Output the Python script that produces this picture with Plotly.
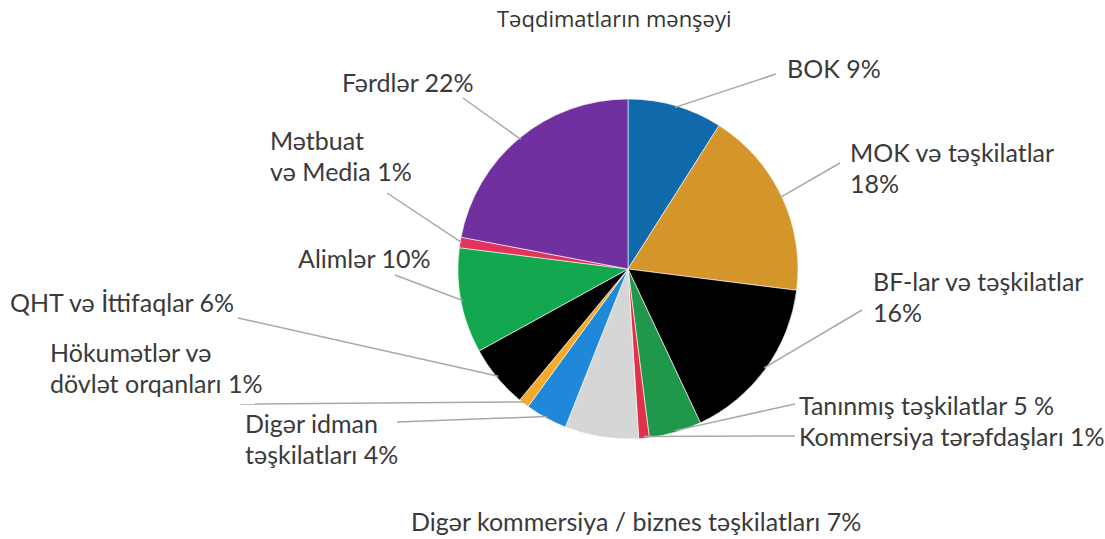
import math
import plotly.graph_objects as go

# ---- data ----
categories = [
    "BOK", "MOK və təşkilatlar", "BF-lar və təşkilatlar", "Tanınmış təşkilatlar",
    "Kommersiya tərəfdaşları", "Digər kommersiya / biznes təşkilatları",
    "Digər idman təşkilatları", "Hökumətlər və dövlət orqanları",
    "QHT və İttifaqlar", "Alimlər", "Mətbuat və Media", "Fərdlər",
]
values = [9, 18, 16, 5, 1, 7, 4, 1, 6, 10, 1, 22]
label_texts = [
    "BOK 9%", "MOK və təşkilatlar<br>18%", "BF-lar və təşkilatlar<br>16%",
    "Tanınmış təşkilatlar 5 %", "Kommersiya tərəfdaşları 1%",
    "Digər kommersiya / biznes təşkilatları 7%", "Digər idman<br>təşkilatları 4%",
    "Hökumətlər və<br>dövlət orqanları 1%", "QHT və İttifaqlar 6%", "Alimlər 10%",
    "Mətbuat<br>və Media 1%", "Fərdlər 22%",
]
colors = [
    "#0f69ab", "#d4952b", "#000000", "#20984b", "#e0304a", "#d6d6d6",
    "#2088d8", "#f5aa2a", "#000000", "#13a850", "#e2335a", "#7030a0",
]
title_text = "Təqdimatların mənşəyi"

# ---- layout (pixel positions of pie and labels) ----
W, H = 1105, 539
CX, CY, R = 628, 269, 170
# (x, y of first line centre, xanchor, end of leader line or None)
label_pos = [
    (785, 68, "left", (776, 74)),
    (848, 152, "left", (840, 163)),
    (871, 281, "left", (862, 310)),
    (797, 405, "left", (795, 404)),
    (797, 436, "left", (795, 436)),
    (636, 521, "center", None),
    (243, 423, "left", (397, 422)),
    (48, 352, "left", (240, 404)),
    (8, 302, "left", (238, 318)),
    (432, 258, "right", (395, 275)),
    (268, 140, "left", (387, 193)),
    (340, 82, "left", (463, 98)),
]
LINE_GAP = 31
FONT = "Lato, 'Open Sans', sans-serif"
TXT_COLOR = "#3a3a3a"

fig = go.Figure()
fig.add_trace(go.Pie(
    labels=categories, values=values, sort=False, direction="clockwise", rotation=0,
    marker=dict(colors=colors, line=dict(color="#ffffff", width=0.6)),
    textinfo="none", hoverinfo="label+percent", showlegend=False,
    domain=dict(x=[(CX - R) / W, (CX + R) / W], y=[1 - (CY + R) / H, 1 - (CY - R) / H]),
))
# invisible pixel-space axes for leader lines and labels
fig.add_trace(go.Scatter(x=[0, W], y=[0, H], mode="markers", marker=dict(opacity=0),
                         hoverinfo="skip", showlegend=False))

total = sum(values)
cum = 0
shapes, annotations = [], []
for v, txt, (lx, ly, anc, lend) in zip(values, label_texts, label_pos):
    mid = (cum + v / 2) / total * 2 * math.pi
    cum += v
    ax = CX + R * 0.99 * math.sin(mid)
    ay = CY - R * 0.99 * math.cos(mid)
    if lend is not None:
        shapes.append(dict(type="line", xref="x", yref="y", x0=ax, y0=ay, x1=lend[0], y1=lend[1],
                           line=dict(color="#a8a8a8", width=1.5), layer="above"))
    for i, line in enumerate(txt.split("<br>")):
        annotations.append(dict(x=lx, y=ly + i * LINE_GAP, xref="x", yref="y", text=line,
                                showarrow=False, xanchor=anc, yanchor="middle",
                                font=dict(family=FONT, size=25, color=TXT_COLOR)))

annotations.append(dict(x=614, y=18, xref="x", yref="y", text=title_text, showarrow=False,
                        xanchor="center", yanchor="middle",
                        font=dict(family="'Open Sans', sans-serif", size=22, color="#333333")))

fig.update_layout(
    width=W, height=H, margin=dict(l=0, r=0, t=0, b=0),
    paper_bgcolor="white", plot_bgcolor="white",
    xaxis=dict(range=[0, W], visible=False, fixedrange=True),
    yaxis=dict(range=[H, 0], visible=False, fixedrange=True),
    shapes=shapes, annotations=annotations,
)
fig.write_html("out.html", config={"displayModeBar": False},
               post_script="document.body.style.margin='0';document.body.style.overflow='hidden';")
